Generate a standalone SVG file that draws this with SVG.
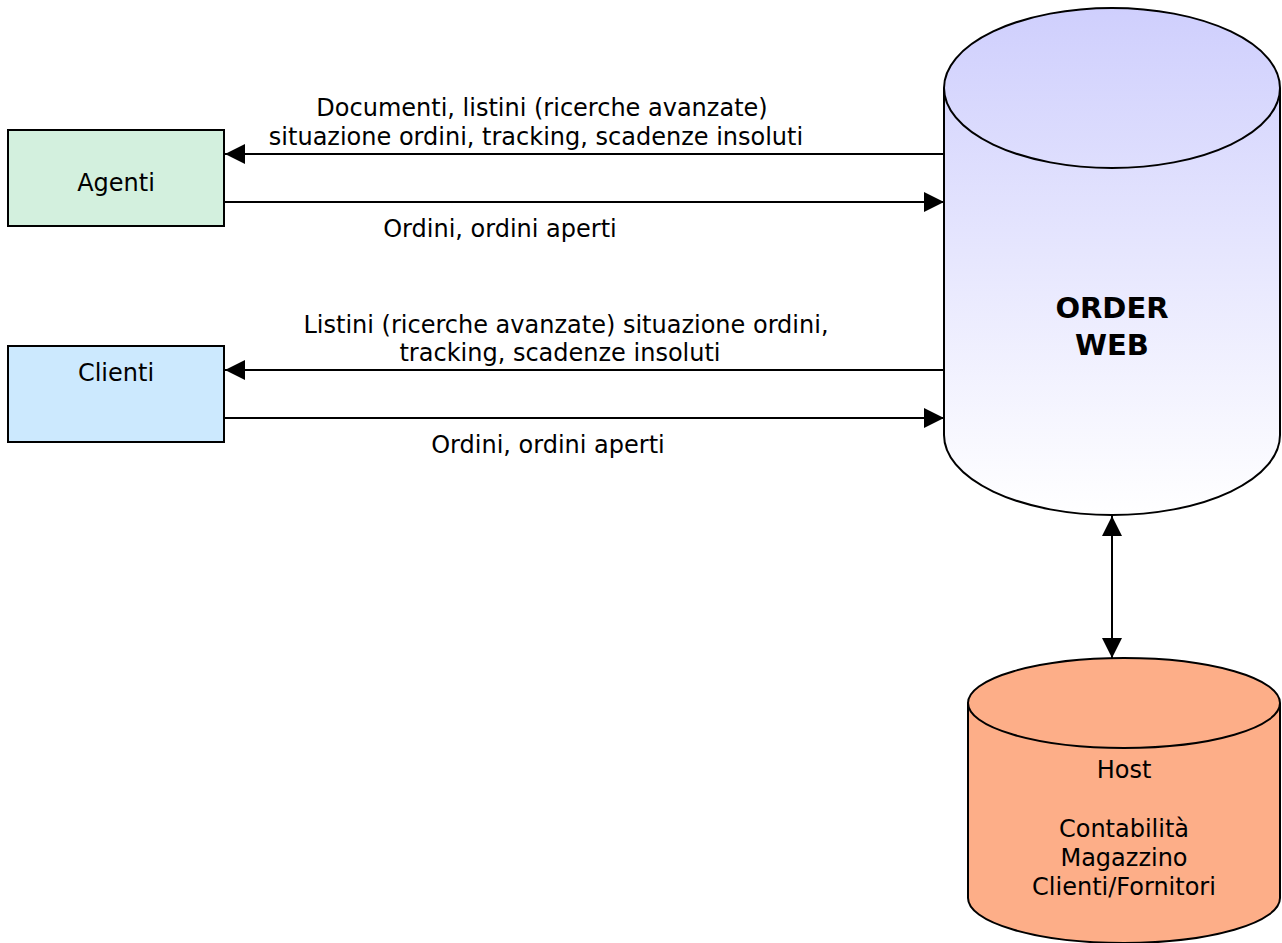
<svg xmlns="http://www.w3.org/2000/svg" width="1282" height="943" viewBox="0 0 1282 943">
<style>
text{font-family:"DejaVu Sans","Verdana",sans-serif;font-size:24px;fill:#000;text-anchor:middle}
.b{font-weight:bold;font-size:29px}
.ln{stroke:#000;stroke-width:2;fill:none}
.sh{stroke:#000;stroke-width:2}
</style>
<defs>
<marker id="ah" markerUnits="userSpaceOnUse" markerWidth="22" markerHeight="20" refX="20" refY="10" orient="auto-start-reverse" viewBox="0 0 22 20"><path d="M0,0 L20,10 L0,20 Z" fill="#000"/></marker>
<linearGradient id="gw" x1="0" y1="0" x2="0" y2="1"><stop offset="0" stop-color="#cfcffd"/><stop offset="1" stop-color="#ffffff"/></linearGradient>
</defs>
<g id="agenti"><rect x="8" y="130" width="216" height="96" fill="#d3f0de" class="sh"/><text x="116" y="191">Agenti</text></g>
<g id="clienti"><rect x="8" y="346" width="216" height="96" fill="#cce9fe" class="sh"/><text x="116" y="381">Clienti</text></g>
<g id="orderweb">
<path d="M944,88 L944,435 A168,80 0 0 0 1280,435 L1280,88 A168,80 0 0 0 944,88 Z" fill="url(#gw)" class="sh"/>
<path d="M944,88 A168,80 0 0 0 1280,88" fill="none" class="sh"/>
<text class="b" x="1112" y="318">ORDER</text><text class="b" x="1112" y="355">WEB</text>
</g>
<g id="host">
<path d="M968,703 L968,898 A156,45 0 0 0 1280,898 L1280,703 A156,45 0 0 0 968,703 Z" fill="#fdae88" class="sh"/>
<path d="M968,703 A156,45 0 0 0 1280,703" fill="none" class="sh"/>
<text x="1124" y="778">Host</text>
<text x="1124" y="837">Contabilità</text>
<text x="1124" y="866">Magazzino</text>
<text x="1124" y="895">Clienti/Fornitori</text>
</g>
<g id="connectors">
<line x1="944" y1="154" x2="225" y2="154" class="ln" marker-end="url(#ah)"/>
<line x1="225" y1="202" x2="944" y2="202" class="ln" marker-end="url(#ah)"/>
<line x1="944" y1="370" x2="225" y2="370" class="ln" marker-end="url(#ah)"/>
<line x1="225" y1="418" x2="944" y2="418" class="ln" marker-end="url(#ah)"/>
<line x1="1112" y1="516" x2="1112" y2="658" class="ln" marker-start="url(#ah)" marker-end="url(#ah)"/>
<text x="542" y="116">Documenti, listini (ricerche avanzate)</text>
<text x="536" y="145">situazione ordini, tracking, scadenze insoluti</text>
<text x="500" y="237">Ordini, ordini aperti</text>
<text x="566" y="333">Listini (ricerche avanzate) situazione ordini,</text>
<text x="560" y="361">tracking, scadenze insoluti</text>
<text x="548" y="453">Ordini, ordini aperti</text>
</g>
</svg>
